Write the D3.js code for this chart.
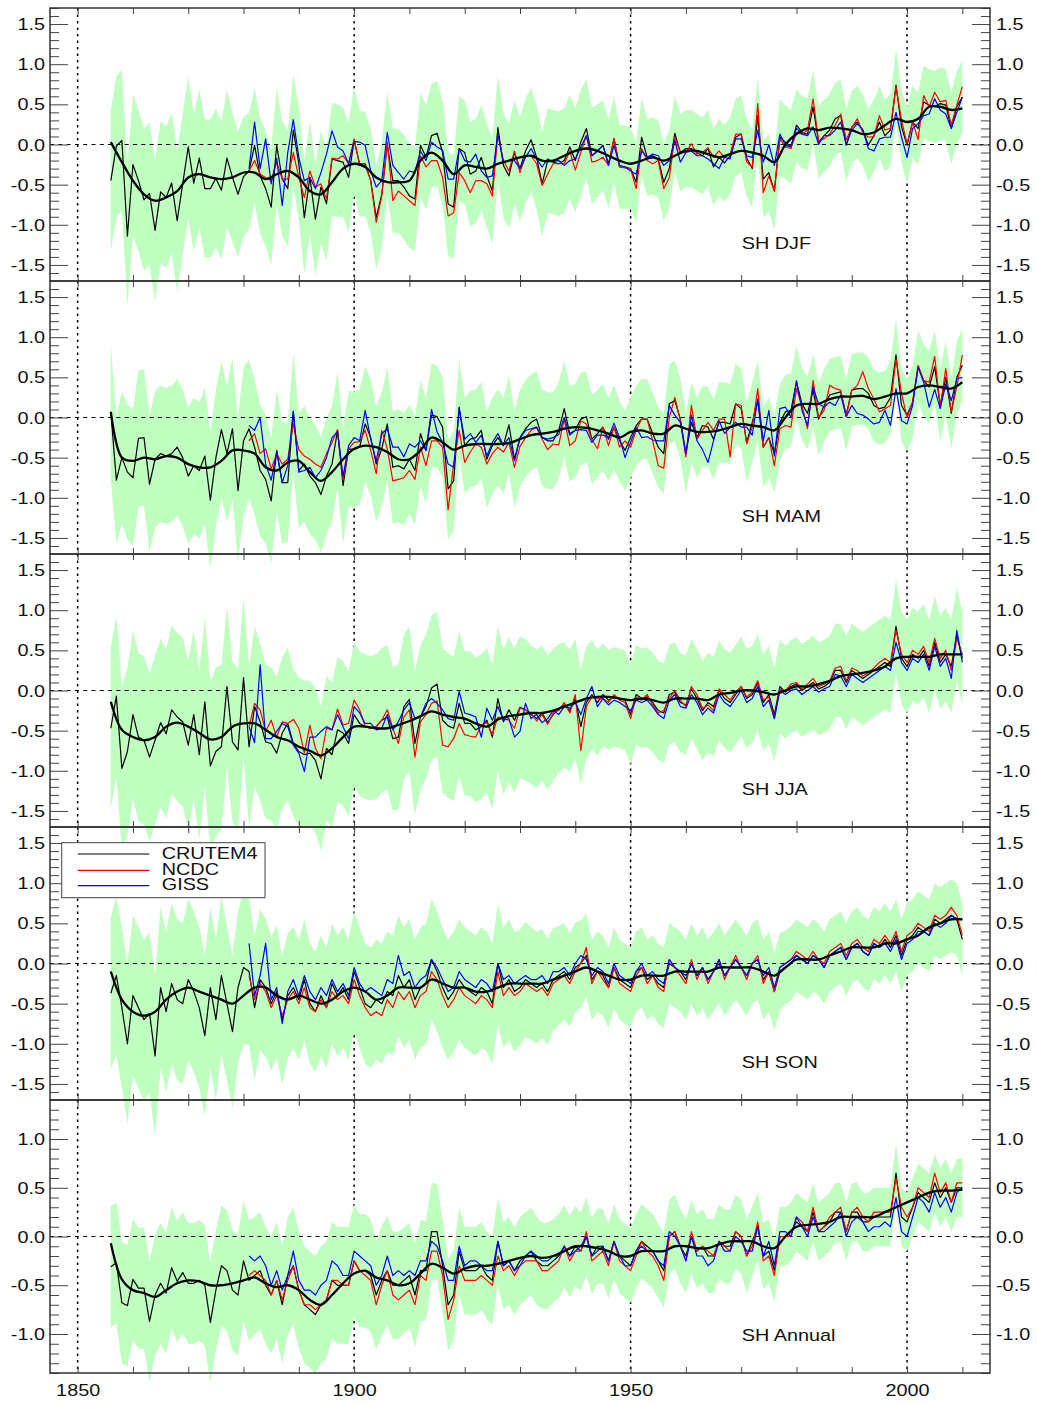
<!DOCTYPE html>
<html><head><meta charset="utf-8">
<script src="https://cdn.jsdelivr.net/npm/d3@7"></script>
<style>
body{margin:0;background:#fff}
svg{display:block}
text{font-family:"Liberation Sans",Arial,Helvetica,sans-serif}
</style>
</head><body>
<svg id="c" width="1037" height="1403"></svg>
<script>
// ---------------- DATA ----------------
const cruStart = 1856;      // first year of CRUTEM4 series
const ncdcStart = 1881;     // first year of NCDC / GISS series
const smoothStart = 1856;   // smoothed CRUTEM4 sampled every 2 years
const smoothStep = 2;
const panelNames = ["SH DJF", "SH MAM", "SH JJA", "SH SON", "SH Annual"];
const legendNames = ["CRUTEM4", "NCDC", "GISS"];
const xTickYears = [1850,1860,1870,1880,1890,1900,1910,1920,1930,1940,1950,1960,1970,1980,1990,2000,2010];
const xLabelYears = [1850, 1900, 1950, 2000];
const yLabelsSeason = [-1.5, -1.0, -0.5, 0.0, 0.5, 1.0, 1.5];
const yLabelsAnnual = [-1.0, -0.5, 0.0, 0.5, 1.0];

// ---- SH DJF ----
const djfCru = [
-0.45,-0.02,0.05,-1.14,-0.25,-0.45,-0.69,-0.61,-1.07,-0.59,
-0.66,-0.48,-0.95,-0.49,-0.03,-0.48,-0.17,-0.55,-0.55,-0.42,
-0.57,-0.17,-0.41,-0.62,-0.40,-0.33,-0.01,-0.39,-0.55,-0.78,
-0.01,-0.43,-0.55,0.18,-0.24,-0.91,-0.41,-0.93,-0.53,-0.74,
-0.18,-0.20,-0.22,-0.41,0.05,-0.24,-0.24,-0.45,-0.91,-0.62,
0.00,-0.45,-0.45,-0.53,-0.64,-0.68,-0.01,-0.16,0.11,0.14,
-0.10,-0.74,-0.78,-0.05,-0.10,-0.37,-0.33,-0.16,-0.39,-0.58,
0.21,-0.26,-0.39,-0.10,-0.30,-0.08,0.06,-0.16,-0.49,-0.20,
-0.22,-0.24,-0.20,-0.03,-0.20,0.03,0.20,-0.14,-0.08,-0.01,
-0.24,0.07,-0.28,-0.28,-0.30,-0.47,0.09,-0.16,-0.14,-0.18,
-0.47,-0.30,0.14,-0.10,-0.05,-0.05,-0.10,-0.14,-0.05,-0.28,
-0.16,-0.23,-0.14,0.09,0.13,-0.17,-0.30,0.36,-0.43,-0.35,
-0.58,0.09,0.03,-0.03,0.24,0.15,0.13,0.47,0.03,0.11,
0.18,0.32,0.36,-0.01,0.22,0.28,0.18,-0.01,0.11,0.28,
0.11,0.18,0.74,0.22,-0.01,0.28,0.20,0.53,0.49,0.47,
0.51,0.49,0.20,0.47,0.59];
const djfNcdc = [
-0.33,-0.20,-0.37,-0.41,-0.45,-0.22,-0.43,-0.43,-0.10,-0.41,
-0.66,-0.33,-0.53,-0.49,-0.68,-0.17,-0.18,-0.14,-0.24,0.07,
-0.26,-0.26,-0.45,-0.97,-0.64,0.03,-0.70,-0.58,-0.64,-0.70,
-0.76,-0.14,-0.28,-0.20,-0.20,-0.41,-0.89,-0.85,-0.35,-0.45,
-0.60,-0.45,-0.45,-0.49,-0.64,0.13,-0.20,-0.33,-0.08,-0.35,
-0.14,-0.14,-0.24,-0.51,-0.37,-0.24,-0.24,-0.24,-0.08,-0.32,
-0.10,0.11,-0.22,-0.20,-0.16,-0.26,0.08,-0.28,-0.29,-0.30,
-0.55,-0.05,-0.20,-0.24,-0.20,-0.55,-0.41,0.09,-0.10,-0.10,
0.01,-0.12,-0.10,-0.04,-0.16,-0.08,-0.16,-0.12,0.13,0.13,
-0.22,-0.28,0.51,-0.60,-0.39,-0.58,0.07,-0.03,-0.05,0.15,
0.13,0.18,0.57,0.05,0.07,0.13,0.24,0.38,0.06,0.21,
0.32,0.15,0.09,0.10,0.36,0.18,0.20,0.72,0.30,0.01,
0.28,0.06,0.61,0.47,0.65,0.53,0.55,0.24,0.49,0.72];
const djfGiss = [
-0.30,0.28,-0.30,0.07,-0.49,-0.17,-0.76,-0.10,0.31,-0.16,
-0.45,-0.41,-0.55,-0.35,-0.12,0.17,-0.03,-0.08,-0.24,0.04,
0.03,-0.01,-0.33,-0.53,-0.45,0.15,-0.26,-0.35,-0.43,-0.33,
-0.35,-0.08,-0.20,0.03,-0.03,-0.07,-0.43,-0.43,-0.05,-0.20,
-0.22,-0.12,-0.33,-0.41,-0.39,0.13,-0.22,-0.20,-0.20,-0.30,
-0.16,-0.05,-0.18,-0.28,-0.18,-0.21,-0.20,-0.26,-0.20,-0.18,
-0.03,0.11,-0.14,-0.08,-0.01,-0.26,-0.01,-0.26,-0.28,-0.33,
-0.37,-0.08,-0.16,-0.12,-0.14,-0.26,-0.20,0.05,-0.22,-0.10,
-0.08,-0.14,-0.14,-0.18,-0.24,-0.30,-0.16,-0.18,0.07,0.07,
-0.14,-0.16,0.18,-0.22,0.00,-0.26,0.13,-0.01,-0.03,0.20,
0.13,0.11,0.22,0.00,0.11,0.11,0.18,0.28,0.00,0.18,
0.26,0.18,-0.05,-0.08,0.07,0.09,0.09,0.40,0.09,-0.16,
0.20,0.26,0.36,0.38,0.57,0.43,0.38,0.20,0.40,0.59];
const djfSmooth = [
0.03,-0.22,-0.45,-0.62,-0.70,-0.66,-0.58,-0.41,-0.37,-0.41,
-0.43,-0.41,-0.35,-0.35,-0.43,-0.37,-0.33,-0.41,-0.58,-0.62,
-0.47,-0.30,-0.24,-0.28,-0.41,-0.47,-0.47,-0.45,-0.20,-0.10,
-0.20,-0.37,-0.26,-0.28,-0.30,-0.24,-0.20,-0.16,-0.14,-0.20,
-0.20,-0.14,-0.08,-0.05,-0.08,-0.14,-0.20,-0.24,-0.20,-0.16,
-0.20,-0.14,-0.08,-0.08,-0.12,-0.16,-0.12,-0.08,-0.10,-0.14,
-0.22,0.00,0.13,0.20,0.18,0.21,0.20,0.18,0.13,0.15,
0.24,0.32,0.28,0.32,0.47,0.47,0.43,0.45];
const djfErr = [
0.88,0.88,0.88,0.88,0.88,0.88,0.88,0.88,0.88,0.88,
0.88,0.88,0.88,0.88,0.88,0.86,0.86,0.86,0.86,0.86,
0.86,0.86,0.80,0.78,0.75,0.72,0.72,0.72,0.72,0.72,
0.72,0.72,0.72,0.70,0.70,0.70,0.70,0.70,0.70,0.70,
0.70,0.70,0.68,0.68,0.66,0.66,0.65,0.65,0.65,0.65,
0.65,0.65,0.65,0.65,0.65,0.65,0.65,0.65,0.65,0.65,
0.65,0.65,0.65,0.65,0.65,0.65,0.65,0.65,0.65,0.65,
0.65,0.65,0.65,0.65,0.65,0.65,0.65,0.65,0.65,0.65,
0.65,0.65,0.65,0.65,0.65,0.65,0.62,0.60,0.58,0.56,
0.55,0.54,0.52,0.52,0.50,0.50,0.48,0.48,0.48,0.48,
0.48,0.48,0.48,0.48,0.48,0.48,0.48,0.48,0.48,0.48,
0.48,0.48,0.48,0.48,0.48,0.48,0.48,0.48,0.48,0.48,
0.48,0.48,0.46,0.46,0.45,0.45,0.45,0.45,0.45,0.45,
0.45,0.45,0.45,0.45,0.45,0.45,0.45,0.45,0.45,0.45,
0.45,0.45,0.45,0.45,0.48,0.45,0.45,0.45,0.45,0.45,
0.45,0.45,0.45,0.45,0.45];

// ---- SH MAM ----
const mamCru = [
0.07,-0.78,-0.50,-0.68,-0.75,-0.26,-0.25,-0.83,-0.52,-0.45,
-0.48,-0.45,-0.37,-0.50,-0.73,-0.60,-0.66,-0.48,-1.03,-0.50,
-0.15,-0.45,-0.14,-0.91,-0.29,-0.14,-0.37,-0.66,-0.77,-1.04,
-0.41,-0.81,-0.81,0.07,-0.66,-0.58,-0.73,-0.81,-0.96,-0.73,
-0.58,-0.16,-0.85,-0.39,-0.40,-0.37,-0.08,-0.25,-0.58,-0.39,
-0.08,-0.62,-0.60,-0.64,-0.52,-0.66,-0.20,-0.41,0.03,0.01,
-0.12,-0.89,-0.79,0.13,-0.35,-0.27,-0.25,-0.16,-0.52,-0.35,
-0.25,-0.35,-0.09,-0.52,-0.25,-0.14,-0.06,-0.02,-0.25,-0.29,
-0.29,-0.16,0.11,-0.20,-0.16,-0.02,0.01,-0.27,-0.20,-0.12,
-0.27,-0.12,-0.29,-0.41,-0.25,-0.10,-0.02,-0.02,-0.20,-0.37,
-0.45,0.17,0.21,-0.02,-0.45,-0.06,-0.25,-0.10,-0.12,-0.27,
-0.06,-0.06,-0.08,0.17,0.11,-0.31,-0.06,0.21,-0.37,-0.25,
-0.45,-0.06,0.07,0.09,0.44,0.17,0.05,0.34,-0.02,0.15,
0.28,0.30,0.32,0.03,0.34,0.36,0.36,0.30,0.15,0.11,
0.13,0.25,0.78,0.15,0.03,0.19,0.63,0.46,0.38,0.63,
0.15,0.50,0.05,0.50,0.65];
const mamNcdc = [
-0.29,-0.20,-0.45,-0.39,-0.64,-0.45,-0.58,-0.52,-0.08,-0.40,
-0.48,-0.52,-0.58,-0.62,-0.45,-0.31,-0.15,-0.77,-0.39,-0.31,
-0.30,-0.16,-0.41,-0.70,-0.16,-0.39,-0.79,-0.77,-0.75,-0.66,
-0.77,-0.37,-0.60,-0.29,-0.29,-0.37,-1.15,-0.58,-0.16,-0.56,
-0.43,-0.33,-0.37,-0.58,-0.45,-0.37,-0.43,-0.31,-0.62,-0.36,
-0.25,-0.16,-0.12,-0.27,-0.40,-0.33,-0.34,-0.02,-0.35,-0.29,
-0.04,-0.08,-0.27,-0.39,-0.12,-0.35,-0.12,-0.37,-0.29,-0.37,
-0.16,-0.02,-0.02,-0.29,-0.60,-0.63,0.00,0.25,-0.04,-0.49,
0.15,-0.27,-0.16,-0.06,-0.16,-0.02,-0.02,-0.49,0.17,0.15,
-0.33,-0.12,0.36,-0.37,-0.25,-0.60,-0.14,-0.10,-0.12,0.36,
0.15,-0.14,0.46,0.00,0.09,0.40,0.36,0.34,0.01,0.34,
0.40,0.57,0.36,0.23,0.07,0.11,0.15,0.73,0.30,0.00,
0.19,0.65,0.46,0.44,0.76,0.13,0.61,0.07,0.38,0.78];
const mamGiss = [
-0.10,-0.16,0.00,-0.58,-0.78,-0.43,-0.81,-0.60,0.08,-0.68,
-0.66,-0.62,-0.75,-0.66,-0.50,-0.25,-0.18,-0.73,-0.35,-0.25,
-0.29,0.09,-0.27,-0.54,-0.20,-0.14,-0.37,-0.37,-0.49,-0.33,
-0.37,-0.29,-0.41,0.10,-0.18,-0.31,-0.58,-0.62,0.11,-0.27,
-0.20,-0.31,-0.22,-0.48,-0.31,-0.20,-0.35,-0.25,-0.54,-0.26,
-0.16,-0.14,-0.12,-0.25,-0.27,-0.25,-0.21,0.00,-0.22,-0.16,
-0.15,-0.16,-0.31,-0.22,-0.22,-0.25,-0.07,-0.25,-0.50,-0.31,
-0.12,-0.25,-0.24,-0.28,-0.29,-0.29,0.15,0.03,-0.06,-0.45,
0.03,-0.29,-0.40,-0.56,-0.29,-0.04,-0.20,-0.12,-0.06,-0.12,
-0.12,-0.22,0.23,-0.29,0.09,-0.48,0.11,0.13,0.00,0.46,
0.09,-0.10,0.38,0.17,0.13,0.19,0.15,0.28,0.01,0.15,
0.05,0.03,-0.02,-0.08,-0.06,0.09,-0.10,0.36,-0.04,-0.08,
0.15,0.63,0.44,0.13,0.35,0.11,0.42,0.21,0.48,0.50];
const mamSmooth = [
0.07,-0.50,-0.54,-0.50,-0.52,-0.48,-0.50,-0.58,-0.62,-0.62,
-0.54,-0.41,-0.41,-0.45,-0.62,-0.66,-0.56,-0.54,-0.68,-0.79,
-0.68,-0.52,-0.39,-0.35,-0.37,-0.43,-0.52,-0.52,-0.41,-0.25,
-0.31,-0.40,-0.35,-0.33,-0.33,-0.33,-0.32,-0.27,-0.22,-0.20,
-0.18,-0.14,-0.12,-0.13,-0.16,-0.20,-0.25,-0.18,-0.16,-0.20,
-0.20,-0.10,-0.14,-0.18,-0.18,-0.16,-0.12,-0.08,-0.10,-0.12,
-0.16,0.00,0.15,0.17,0.17,0.23,0.26,0.26,0.27,0.23,
0.26,0.30,0.30,0.38,0.40,0.38,0.36,0.44];
const mamErr = [
0.83,0.80,0.82,0.84,0.85,0.85,0.85,0.85,0.85,0.85,
0.85,0.85,0.85,0.85,0.85,0.85,0.85,0.85,0.85,0.85,
0.85,0.85,0.88,0.90,0.92,0.86,0.84,0.82,0.80,0.78,
0.76,0.76,0.74,0.74,0.72,0.72,0.72,0.72,0.72,0.72,
0.72,0.72,0.72,0.72,0.72,0.72,0.72,0.72,0.72,0.70,
0.70,0.70,0.70,0.70,0.68,0.68,0.66,0.66,0.64,0.64,
0.62,0.62,0.62,0.60,0.60,0.60,0.60,0.60,0.60,0.60,
0.60,0.60,0.60,0.60,0.60,0.60,0.60,0.60,0.60,0.60,
0.60,0.60,0.60,0.60,0.58,0.58,0.56,0.56,0.54,0.54,
0.52,0.52,0.50,0.50,0.50,0.50,0.50,0.50,0.50,0.50,
0.50,0.50,0.50,0.50,0.50,0.50,0.50,0.50,0.50,0.50,
0.50,0.50,0.50,0.50,0.50,0.50,0.50,0.50,0.50,0.50,
0.48,0.48,0.46,0.46,0.45,0.45,0.45,0.45,0.45,0.45,
0.45,0.45,0.45,0.45,0.45,0.45,0.45,0.45,0.45,0.45,
0.45,0.45,0.45,0.45,0.45,0.45,0.45,0.45,0.45,0.45,
0.45,0.45,0.45,0.45,0.45];

// ---- SH JJA ----
const jjaCru = [
-0.47,-0.07,-0.97,-0.76,-0.30,-0.58,-0.62,-0.83,-0.62,-0.40,
-0.54,-0.24,-0.33,-0.39,-0.68,-0.30,-0.80,-0.14,-0.94,-0.76,
-0.70,0.05,-0.64,-0.74,0.16,-0.70,-0.20,-0.39,-0.64,-0.66,
-0.78,-0.53,-0.41,-0.66,-0.76,-0.80,-0.78,-0.87,-1.10,-0.72,
-0.80,-0.49,-0.53,-0.66,-0.30,-0.41,-0.45,-0.47,-0.45,-0.37,
-0.33,-0.60,-0.58,-0.20,-0.11,-0.66,-0.33,-0.20,0.03,0.08,
-0.37,-0.44,-0.47,-0.16,-0.41,-0.41,-0.49,-0.45,-0.37,-0.58,
-0.10,-0.39,-0.24,-0.37,-0.21,-0.24,
-0.30,-0.35,-0.28,-0.40,-0.30,-0.22,-0.18,-0.25,-0.10,-0.45,
-0.15,-0.05,-0.15,-0.05,-0.12,-0.08,-0.10,-0.12,-0.30,-0.05,
-0.10,-0.08,-0.15,-0.25,-0.28,-0.05,-0.02,-0.15,-0.18,0.02,
-0.10,-0.25,-0.15,-0.20,0.00,-0.10,-0.15,-0.05,0.05,-0.10,
-0.05,0.10,-0.15,-0.05,-0.30,0.05,-0.02,0.05,0.08,0.00,
0.05,0.10,0.02,0.05,0.10,0.25,0.25,0.10,0.25,0.20,
0.15,0.20,0.25,0.30,0.35,0.30,0.80,0.40,0.30,0.45,
0.40,0.50,0.30,0.60,0.35,0.45,0.30,0.70,0.40];
const jjaNcdc = [
-0.45,-0.16,-0.24,-0.51,-0.37,-0.58,-0.39,-0.41,-0.36,-0.47,
-0.78,-0.43,-0.72,-0.85,-0.47,-0.49,-0.23,-0.43,-0.41,-0.12,
-0.24,-0.45,-0.47,-0.45,-0.37,-0.24,-0.47,-0.66,-0.33,-0.24,
-0.83,-0.39,-0.30,-0.16,-0.13,-0.68,-0.70,-0.60,-0.41,-0.55,
-0.57,-0.58,-0.43,-0.40,-0.55,-0.33,-0.35,-0.37,-0.47,-0.22,-0.24,
-0.28,-0.38,-0.30,-0.42,-0.28,-0.25,-0.15,-0.28,-0.05,-0.75,
-0.20,-0.08,-0.10,-0.10,-0.15,-0.05,-0.12,-0.15,-0.35,-0.08,
-0.12,-0.05,-0.18,-0.28,-0.25,-0.10,0.00,-0.12,-0.20,0.05,
-0.05,-0.22,-0.18,-0.25,0.02,-0.05,-0.12,-0.02,0.05,-0.08,
-0.02,0.12,-0.12,-0.08,-0.35,0.02,0.00,0.08,0.10,0.02,
0.08,0.15,0.05,0.08,0.12,0.28,0.30,0.12,0.28,0.25,
0.18,0.22,0.28,0.35,0.40,0.35,0.75,0.45,0.35,0.50,
0.45,0.55,0.35,0.65,0.40,0.50,0.25,0.65,0.45];
const jjaGiss = [
-0.45,-0.65,0.32,-0.60,-0.60,-0.51,-0.41,-0.45,-0.68,-0.78,
-1.01,-0.58,-0.58,-0.51,-0.45,-0.49,-0.30,-0.45,-0.60,-0.20,
-0.28,-0.41,-0.41,-0.49,-0.47,-0.30,-0.49,-0.39,-0.24,-0.15,
-0.35,-0.33,-0.16,-0.10,-0.16,-0.24,-0.35,-0.37,-0.01,-0.28,
-0.30,-0.33,-0.58,-0.22,-0.37,-0.20,-0.37,-0.35,-0.58,-0.51,-0.16,
-0.35,-0.30,-0.40,-0.35,-0.25,-0.30,-0.20,-0.22,-0.15,-0.30,
-0.10,0.05,-0.20,-0.10,-0.18,-0.12,-0.15,-0.20,-0.25,-0.12,
-0.15,-0.12,-0.20,-0.30,-0.35,-0.12,-0.05,-0.20,-0.22,-0.05,
-0.15,-0.30,-0.22,-0.28,-0.05,-0.15,-0.20,-0.10,0.00,-0.15,
-0.10,0.05,-0.20,-0.12,-0.35,0.00,-0.05,0.00,0.02,-0.05,
0.00,0.05,-0.02,0.02,0.05,0.20,0.18,0.05,0.20,0.15,
0.10,0.15,0.20,0.25,0.30,0.25,0.60,0.35,0.25,0.40,
0.35,0.45,0.25,0.55,0.30,0.40,0.15,0.75,0.35];
const jjaSmooth = [
-0.14,-0.49,-0.58,-0.62,-0.58,-0.45,-0.40,-0.45,-0.53,-0.61,
-0.58,-0.45,-0.41,-0.41,-0.49,-0.58,-0.62,-0.70,-0.75,-0.81,
-0.72,-0.58,-0.45,-0.45,-0.47,-0.47,-0.43,-0.38,-0.32,-0.26,
-0.30,-0.33,-0.35,-0.41,-0.45,-0.36,-0.32,-0.30,-0.28,-0.28,
-0.25,-0.20,-0.15,-0.10,-0.08,-0.08,-0.10,-0.12,-0.10,-0.12,
-0.15,-0.10,-0.10,-0.10,-0.12,-0.05,-0.03,0.00,0.00,-0.02,
-0.05,0.00,0.05,0.05,0.08,0.12,0.18,0.20,0.22,0.25,
0.30,0.40,0.42,0.42,0.42,0.45,0.45,0.45];
const jjaErr = [
1.00,1.00,1.02,1.04,1.05,1.05,1.05,1.05,1.05,1.05,
1.05,1.05,1.05,1.05,1.05,1.05,1.05,1.05,1.05,1.05,
1.02,1.00,1.00,1.00,1.00,1.00,1.00,0.98,0.96,0.95,
0.95,0.95,0.95,0.92,0.92,0.92,0.90,0.90,0.90,0.90,
0.90,0.90,0.90,0.90,0.90,0.90,0.90,0.90,0.90,0.90,
0.90,0.90,0.90,0.90,0.90,0.90,0.90,0.90,0.90,0.90,
0.90,0.90,0.90,0.90,0.90,0.90,0.90,0.90,0.90,0.90,
0.90,0.90,0.90,0.90,0.88,0.88,0.86,0.86,0.84,0.84,
0.82,0.80,0.78,0.76,0.74,0.72,0.70,0.68,0.66,0.64,
0.62,0.62,0.62,0.62,0.62,0.62,0.62,0.62,0.62,0.62,
0.62,0.62,0.62,0.62,0.62,0.62,0.62,0.62,0.62,0.62,
0.62,0.62,0.62,0.62,0.62,0.62,0.60,0.60,0.60,0.60,
0.58,0.58,0.58,0.58,0.58,0.58,0.58,0.58,0.58,0.58,
0.58,0.58,0.58,0.58,0.58,0.58,0.58,0.58,0.58,0.58,
0.58,0.58,0.58,0.58,0.58,0.58,0.58,0.58,0.58,0.58,
0.58,0.58,0.58,0.58,0.58];

// ---- SH SON ----
const sonCru = [
-0.37,-0.15,-0.55,-1.00,-0.40,-0.55,-0.70,-0.62,-1.15,-0.30,
-0.60,-0.25,-0.45,-0.50,-0.20,-0.35,-0.55,-0.90,-0.30,-0.70,
-0.15,-0.50,-0.85,-0.30,-0.05,-0.10,-0.55,-0.20,-0.30,-0.50,
-0.35,-0.70,-0.40,-0.30,-0.45,-0.20,-0.50,-0.60,-0.40,-0.55,
-0.25,-0.40,-0.30,-0.45,-0.10,-0.30,-0.50,-0.55,-0.45,-0.50,
-0.35,-0.40,-0.15,-0.30,-0.20,-0.45,-0.30,-0.25,0.05,-0.10,
-0.30,-0.45,-0.35,-0.20,-0.30,-0.35,-0.40,-0.30,-0.35,-0.50,
0.00,-0.30,-0.20,-0.35,-0.30,-0.20,-0.25,-0.30,-0.25,-0.35,
-0.20,-0.15,-0.10,-0.20,-0.05,0.00,0.10,-0.20,-0.10,-0.15,
-0.30,-0.05,-0.20,-0.25,-0.30,-0.10,-0.05,-0.20,-0.15,-0.25,
-0.30,0.00,-0.05,-0.10,-0.20,0.00,-0.15,-0.05,-0.20,-0.10,
0.00,-0.15,-0.05,0.05,-0.05,-0.15,0.00,0.05,-0.20,-0.10,
-0.35,-0.10,-0.05,0.00,0.10,0.05,0.00,0.10,0.05,-0.05,
0.10,0.15,0.20,0.05,0.20,0.25,0.15,0.10,0.25,0.20,
0.30,0.20,0.35,0.10,0.30,0.35,0.45,0.40,0.35,0.55,
0.50,0.55,0.60,0.55,0.30];
const sonNcdc = [
-0.15,-0.45,-0.25,-0.35,-0.55,-0.40,-0.65,-0.45,-0.35,-0.50,
-0.30,-0.55,-0.60,-0.45,-0.55,-0.35,-0.45,-0.40,-0.50,-0.20,
-0.40,-0.55,-0.65,-0.60,-0.65,-0.45,-0.55,-0.35,-0.45,-0.35,
-0.55,-0.40,-0.35,-0.10,-0.20,-0.40,-0.55,-0.45,-0.30,-0.40,
-0.45,-0.50,-0.40,-0.45,-0.55,-0.10,-0.40,-0.30,-0.40,-0.35,
-0.25,-0.30,-0.35,-0.30,-0.40,-0.25,-0.20,-0.15,-0.25,-0.10,
0.00,0.20,-0.25,-0.10,-0.20,-0.30,-0.05,-0.25,-0.30,-0.35,
-0.15,-0.05,-0.25,-0.15,-0.30,-0.35,0.05,-0.05,-0.15,-0.25,
0.05,-0.20,-0.05,-0.25,-0.10,0.05,-0.20,-0.05,0.10,-0.05,
-0.20,0.00,0.10,-0.25,-0.10,-0.35,-0.05,0.00,0.05,0.15,
0.10,0.05,0.15,0.05,0.00,0.15,0.20,0.25,0.10,0.25,
0.30,0.20,0.15,0.30,0.25,0.35,0.25,0.40,0.15,0.35,
0.40,0.50,0.45,0.40,0.60,0.55,0.60,0.70,0.60,0.35];
const sonGiss = [
0.25,-0.40,-0.15,0.25,-0.45,-0.30,-0.75,-0.35,-0.20,-0.40,
-0.15,-0.35,-0.45,-0.30,-0.40,-0.20,-0.35,-0.25,-0.40,-0.05,
-0.25,-0.35,-0.30,-0.35,-0.40,-0.20,-0.25,0.10,-0.15,-0.10,
-0.30,-0.20,-0.15,0.05,-0.05,-0.20,-0.35,-0.30,-0.10,-0.20,
-0.25,-0.30,-0.20,-0.25,-0.35,0.00,-0.20,-0.15,-0.25,-0.20,
-0.15,-0.20,-0.20,-0.15,-0.25,-0.10,-0.10,-0.05,-0.15,0.00,
0.10,0.05,-0.15,-0.05,-0.10,-0.25,0.00,-0.15,-0.20,-0.25,
-0.10,0.00,-0.15,-0.10,-0.20,-0.25,0.05,-0.05,-0.10,-0.15,
0.00,-0.15,-0.05,-0.20,-0.10,0.05,-0.15,-0.05,0.05,-0.05,
-0.15,0.00,0.05,-0.15,-0.05,-0.30,-0.05,0.00,0.05,0.10,
0.05,0.00,0.10,0.05,-0.05,0.10,0.15,0.20,0.05,0.20,
0.25,0.15,0.10,0.25,0.20,0.25,0.15,0.30,0.05,0.25,
0.30,0.40,0.40,0.35,0.50,0.45,0.50,0.60,0.55,0.55];
const sonSmooth = [
-0.10,-0.45,-0.60,-0.65,-0.60,-0.45,-0.35,-0.30,-0.35,-0.40,
-0.45,-0.50,-0.40,-0.30,-0.30,-0.40,-0.45,-0.40,-0.45,-0.50,
-0.45,-0.35,-0.30,-0.35,-0.45,-0.40,-0.30,-0.30,-0.30,-0.20,
-0.25,-0.30,-0.30,-0.35,-0.35,-0.30,-0.25,-0.25,-0.25,-0.25,
-0.20,-0.15,-0.10,-0.05,-0.10,-0.15,-0.20,-0.20,-0.15,-0.15,
-0.15,-0.10,-0.10,-0.10,-0.10,-0.05,-0.05,-0.05,-0.05,-0.10,
-0.15,-0.05,0.05,0.05,0.05,0.10,0.15,0.20,0.20,0.20,
0.25,0.25,0.30,0.35,0.45,0.50,0.55,0.55];
const sonErr = [
0.95,0.98,1.00,1.00,1.00,1.00,1.00,1.00,1.00,1.00,
1.00,1.00,1.00,1.00,1.00,1.00,1.00,1.00,1.00,1.00,
0.98,0.96,0.95,0.95,0.95,0.92,0.90,0.88,0.86,0.84,
0.82,0.80,0.78,0.76,0.75,0.75,0.75,0.75,0.75,0.75,
0.75,0.75,0.75,0.75,0.75,0.75,0.75,0.75,0.75,0.75,
0.75,0.75,0.75,0.75,0.75,0.75,0.75,0.75,0.75,0.75,
0.75,0.75,0.75,0.75,0.75,0.75,0.75,0.75,0.75,0.75,
0.75,0.75,0.75,0.75,0.72,0.72,0.70,0.70,0.68,0.66,
0.64,0.62,0.60,0.58,0.56,0.54,0.52,0.50,0.50,0.50,
0.50,0.50,0.50,0.50,0.50,0.50,0.50,0.50,0.50,0.50,
0.50,0.50,0.50,0.50,0.50,0.50,0.50,0.50,0.50,0.50,
0.50,0.50,0.50,0.50,0.50,0.50,0.50,0.50,0.50,0.50,
0.48,0.48,0.46,0.46,0.45,0.45,0.45,0.45,0.45,0.45,
0.45,0.45,0.45,0.45,0.45,0.45,0.45,0.45,0.45,0.45,
0.45,0.45,0.45,0.45,0.45,0.45,0.45,0.45,0.45,0.45,
0.45,0.45,0.45,0.45,0.45];

// ---- SH Annual ----
const annCru = [
-0.31,-0.27,-0.68,-0.71,-0.44,-0.53,-0.53,-0.87,-0.60,-0.48,
-0.58,-0.32,-0.46,-0.37,-0.48,-0.48,-0.45,-0.50,-0.88,-0.55,
-0.30,-0.35,-0.55,-0.60,-0.25,-0.45,-0.40,-0.35,-0.50,-0.60,
-0.45,-0.70,-0.40,-0.30,-0.55,-0.70,-0.75,-0.80,-0.70,-0.65,
-0.45,-0.50,-0.50,-0.50,-0.25,-0.35,-0.35,-0.40,-0.60,-0.45,
-0.35,-0.50,-0.50,-0.45,-0.40,-0.60,-0.35,-0.35,0.05,0.05,
-0.30,-0.70,-0.60,-0.15,-0.35,-0.35,-0.35,-0.30,-0.40,-0.45,
-0.05,-0.30,-0.25,-0.35,-0.25,-0.20,-0.15,-0.25,-0.30,-0.30,
-0.25,-0.20,-0.10,-0.20,-0.10,-0.15,0.00,-0.20,-0.10,-0.10,
-0.25,-0.05,-0.20,-0.25,-0.30,-0.15,-0.05,-0.10,-0.15,-0.25,
-0.35,0.00,0.05,-0.10,-0.20,0.00,-0.15,-0.10,-0.20,-0.20,
-0.05,-0.10,-0.10,0.05,0.00,-0.20,-0.05,0.10,-0.20,-0.15,
-0.35,0.00,0.00,0.05,0.15,0.10,0.05,0.25,0.05,0.10,
0.15,0.25,0.25,0.05,0.25,0.25,0.15,0.15,0.20,0.20,
0.20,0.20,0.65,0.20,0.15,0.30,0.45,0.40,0.35,0.55,
0.40,0.50,0.35,0.50,0.50];
const annNcdc = [
-0.40,-0.35,-0.40,-0.45,-0.60,-0.45,-0.65,-0.45,-0.30,-0.55,
-0.70,-0.70,-0.75,-0.70,-0.65,-0.45,-0.45,-0.50,-0.50,-0.25,
-0.35,-0.40,-0.45,-0.70,-0.50,-0.35,-0.60,-0.65,-0.60,-0.55,
-0.70,-0.40,-0.45,-0.15,-0.15,-0.40,-0.85,-0.65,-0.30,-0.45,
-0.45,-0.45,-0.40,-0.45,-0.50,-0.20,-0.35,-0.30,-0.40,-0.30,
-0.25,-0.25,-0.25,-0.35,-0.35,-0.30,-0.25,-0.10,-0.25,-0.15,
-0.15,0.05,-0.25,-0.20,-0.15,-0.30,-0.05,-0.25,-0.30,-0.35,
-0.20,-0.05,-0.15,-0.20,-0.30,-0.45,0.00,0.05,-0.10,-0.25,
0.05,-0.15,-0.10,-0.15,-0.20,-0.05,-0.10,-0.15,0.05,0.00,
-0.20,-0.10,0.15,-0.25,-0.20,-0.40,0.00,0.00,0.00,0.20,
0.15,0.05,0.30,0.05,0.10,0.20,0.25,0.30,0.05,0.25,
0.30,0.20,0.15,0.25,0.25,0.25,0.25,0.60,0.30,0.20,
0.30,0.50,0.45,0.40,0.65,0.45,0.55,0.35,0.55,0.55];
const annGiss = [
-0.20,-0.25,-0.20,-0.30,-0.50,-0.35,-0.55,-0.40,-0.15,-0.45,
-0.55,-0.55,-0.60,-0.50,-0.45,-0.25,-0.30,-0.40,-0.40,-0.15,
-0.20,-0.25,-0.30,-0.50,-0.40,-0.20,-0.40,-0.35,-0.40,-0.35,
-0.40,-0.25,-0.25,-0.05,-0.10,-0.25,-0.45,-0.45,-0.10,-0.30,
-0.25,-0.25,-0.30,-0.35,-0.35,-0.05,-0.30,-0.25,-0.35,-0.30,
-0.20,-0.15,-0.20,-0.25,-0.25,-0.20,-0.20,-0.10,-0.20,-0.15,
-0.10,0.00,-0.20,-0.15,-0.10,-0.25,-0.05,-0.20,-0.30,-0.30,
-0.15,-0.10,-0.15,-0.15,-0.25,-0.30,0.05,0.00,-0.10,-0.25,
0.00,-0.20,-0.20,-0.30,-0.25,-0.05,-0.15,-0.15,0.00,-0.05,
-0.15,-0.15,0.10,-0.20,-0.05,-0.30,0.05,0.05,0.00,0.20,
0.10,0.00,0.20,0.05,0.05,0.10,0.15,0.25,0.00,0.15,
0.20,0.15,0.05,0.10,0.10,0.15,0.10,0.40,0.05,0.00,
0.20,0.40,0.35,0.25,0.45,0.30,0.40,0.25,0.45,0.50];
const annSmooth = [
-0.07,-0.44,-0.55,-0.58,-0.62,-0.55,-0.48,-0.45,-0.46,-0.50,
-0.50,-0.48,-0.45,-0.42,-0.48,-0.52,-0.50,-0.55,-0.65,-0.70,
-0.60,-0.48,-0.38,-0.35,-0.42,-0.45,-0.50,-0.48,-0.38,-0.28,
-0.32,-0.38,-0.33,-0.30,-0.30,-0.28,-0.25,-0.22,-0.20,-0.22,
-0.20,-0.15,-0.10,-0.10,-0.12,-0.15,-0.20,-0.20,-0.15,-0.15,
-0.15,-0.10,-0.10,-0.12,-0.12,-0.08,-0.05,-0.05,-0.05,-0.10,
-0.12,0.00,0.10,0.12,0.13,0.15,0.20,0.20,0.20,0.20,
0.25,0.30,0.35,0.40,0.45,0.47,0.47,0.48];
const annErr = [
0.62,0.62,0.62,0.62,0.62,0.62,0.62,0.62,0.62,0.62,
0.62,0.62,0.62,0.62,0.62,0.62,0.62,0.62,0.62,0.62,
0.62,0.62,0.62,0.62,0.62,0.62,0.60,0.60,0.60,0.60,
0.60,0.60,0.60,0.60,0.60,0.60,0.60,0.60,0.60,0.60,
0.60,0.60,0.60,0.60,0.58,0.58,0.58,0.58,0.56,0.56,
0.56,0.55,0.55,0.54,0.54,0.53,0.52,0.51,0.50,0.49,
0.48,0.47,0.46,0.45,0.45,0.45,0.45,0.45,0.45,0.45,
0.45,0.45,0.45,0.45,0.45,0.45,0.45,0.45,0.44,0.44,
0.43,0.43,0.42,0.42,0.41,0.40,0.40,0.39,0.39,0.38,
0.38,0.38,0.38,0.38,0.38,0.38,0.38,0.38,0.38,0.38,
0.38,0.38,0.38,0.38,0.38,0.38,0.38,0.38,0.38,0.38,
0.38,0.38,0.38,0.38,0.38,0.38,0.36,0.35,0.34,0.33,
0.32,0.31,0.30,0.30,0.30,0.30,0.30,0.30,0.30,0.30,
0.30,0.30,0.30,0.30,0.30,0.30,0.30,0.30,0.30,0.30,
0.30,0.30,0.30,0.30,0.30,0.30,0.30,0.30,0.30,0.30,
0.30,0.30,0.30,0.30,0.30];

// ---------------- DRAWING ----------------
const panels = [
  {name: panelNames[0], cru: djfCru, ncdc: djfNcdc, giss: djfGiss, smooth: djfSmooth, err: djfErr},
  {name: panelNames[1], cru: mamCru, ncdc: mamNcdc, giss: mamGiss, smooth: mamSmooth, err: mamErr},
  {name: panelNames[2], cru: jjaCru, ncdc: jjaNcdc, giss: jjaGiss, smooth: jjaSmooth, err: jjaErr},
  {name: panelNames[3], cru: sonCru, ncdc: sonNcdc, giss: sonGiss, smooth: sonSmooth, err: sonErr},
  {name: panelNames[4], cru: annCru, ncdc: annNcdc, giss: annGiss, smooth: annSmooth, err: annErr}
];

const svg = d3.select("#c");
const L = 50, R = 990, PH = 273;
const tops = [8, 281, 554, 827, 1100];
const SX = 1.24;          // horizontal stretch of the original lettering
const FS = 16;
const FRAME = "#333", TICK = "#444", TXT = "#111";
const GREEN = "#bfffbf";

const x = d3.scaleLinear().domain([1845, 2015]).range([L, R]);
const fmt = v => v.toFixed(1);

function styleTickText(sel, dx, dy) {
  sel.selectAll(".tick text")
    .attr("x", null).attr("y", null).attr("dy", null)
    .attr("transform", `translate(${dx},${dy}) scale(${SX},1)`)
    .attr("font-size", FS).attr("fill", TXT);
}
function cleanAxis(g) {
  g.attr("font-size", null).attr("font-family", null);
  g.select(".domain").remove();
  g.selectAll(".tick line").attr("stroke", TICK).attr("stroke-width", 1);
}

panels.forEach((p, i) => {
  const top = tops[i], bot = top + PH;
  const lim = i === 4 ? 1.4 : 1.7;
  const y = d3.scaleLinear().domain([-lim, lim]).range([bot, top]);
  const majors = i === 4 ? yLabelsAnnual : yLabelsSeason;
  const minors = d3.range(-Math.round(lim * 10), Math.round(lim * 10) + 1)
    .filter(k => k % 5 !== 0).map(k => k / 10);
  const g = svg.append("g");

  // vertical dotted reference lines
  g.selectAll("line.vref").data(xLabelYears).join("line").attr("class", "vref")
    .attr("x1", d => x(d)).attr("x2", d => x(d)).attr("y1", top).attr("y2", bot)
    .attr("stroke", "#000").attr("stroke-width", 1.5).attr("stroke-dasharray", "2.5,4");

  // uncertainty band
  const band = p.cru.map((v, k) => ({yr: cruStart + k, lo: v - p.err[k], hi: v + p.err[k]}));
  g.append("path").datum(band)
    .attr("d", d3.area().x(d => x(d.yr)).y0(d => y(d.lo)).y1(d => y(d.hi)))
    .attr("fill", GREEN);

  // zero line
  g.append("line").attr("x1", L).attr("x2", R).attr("y1", y(0)).attr("y2", y(0))
    .attr("stroke", "#000").attr("stroke-width", 1).attr("stroke-dasharray", "4,4.3");

  const line = d3.line().x(d => x(d[0])).y(d => y(d[1]));
  const cruPts = p.cru.map((v, k) => [cruStart + k, v]);
  const ncdcPts = p.ncdc.map((v, k) => [ncdcStart + k, v]);
  const gissPts = p.giss.map((v, k) => [ncdcStart + k, v]);
  const smPts = p.smooth.map((v, k) => [smoothStart + smoothStep * k, v]);

  g.append("path").datum(cruPts).attr("d", line).attr("fill", "none")
    .attr("stroke", "#000").attr("stroke-width", 1.2).attr("stroke-linejoin", "round");
  g.append("path").datum(ncdcPts).attr("d", line).attr("fill", "none")
    .attr("stroke", "#ff0000").attr("stroke-width", 1.2).attr("stroke-linejoin", "round");
  g.append("path").datum(gissPts).attr("d", line).attr("fill", "none")
    .attr("stroke", "#0000ff").attr("stroke-width", 1.2).attr("stroke-linejoin", "round");
  g.append("path").datum(smPts).attr("d", line.curve(d3.curveCatmullRom.alpha(0.5)))
    .attr("fill", "none").attr("stroke", "#000").attr("stroke-width", 2.3);

  // y axes (ticks pointing inward)
  const gl = g.append("g").attr("transform", `translate(${L},0)`)
    .call(d3.axisLeft(y).tickValues(majors).tickSize(-18).tickPadding(0).tickFormat(fmt));
  cleanAxis(gl); styleTickText(gl, -5, 5.5);
  gl.selectAll(".tick text").attr("text-anchor", "end");
  const glm = g.append("g").attr("transform", `translate(${L},0)`)
    .call(d3.axisLeft(y).tickValues(minors).tickSize(-9).tickFormat(""));
  cleanAxis(glm);

  const gr = g.append("g").attr("transform", `translate(${R},0)`)
    .call(d3.axisRight(y).tickValues(majors).tickSize(-18).tickPadding(0).tickFormat(fmt));
  cleanAxis(gr); styleTickText(gr, 6, 5.5);
  gr.selectAll(".tick text").attr("text-anchor", "start");
  const grm = g.append("g").attr("transform", `translate(${R},0)`)
    .call(d3.axisRight(y).tickValues(minors).tickSize(-9).tickFormat(""));
  cleanAxis(grm);

  // x axes (top and bottom of every panel)
  const gt = g.append("g").attr("transform", `translate(0,${top})`)
    .call(d3.axisTop(x).tickValues(xTickYears).tickSize(-6).tickFormat(""));
  cleanAxis(gt);
  const gb = g.append("g").attr("transform", `translate(0,${bot})`)
    .call(d3.axisBottom(x).tickValues(xTickYears).tickSize(-6).tickPadding(0)
      .tickFormat(d => (i === 4 && xLabelYears.includes(d)) ? String(d) : ""));
  cleanAxis(gb); styleTickText(gb, 0, 23);
  gb.selectAll(".tick text").attr("text-anchor", "middle");

  // frame
  g.append("rect").attr("x", L).attr("y", top).attr("width", R - L).attr("height", PH)
    .attr("fill", "none").attr("stroke", FRAME).attr("stroke-width", 1.5);

  // panel label
  g.append("text").attr("transform", `translate(741.7,${top + 241.3}) scale(${SX},1)`)
    .attr("font-size", FS).attr("fill", TXT).text(p.name);
});

// legend (inside the SON panel)
const lg = svg.append("g");
lg.append("rect").attr("x", 61.7).attr("y", 842.7).attr("width", 203.3).attr("height", 55)
  .attr("fill", "#fff").attr("stroke", TICK).attr("stroke-width", 1);
const legendColors = ["#000", "#ff0000", "#0000ff"];
const legendY = [854, 870.3, 885.7];
legendNames.forEach((n, k) => {
  lg.append("line").attr("x1", 77.7).attr("x2", 149.3).attr("y1", legendY[k]).attr("y2", legendY[k])
    .attr("stroke", legendColors[k]).attr("stroke-width", 1.2);
  lg.append("text").attr("transform", `translate(161.7,${legendY[k] + 4.5}) scale(${SX},1)`)
    .attr("font-size", FS).attr("fill", TXT).text(n);
});
</script>
</body></html>
